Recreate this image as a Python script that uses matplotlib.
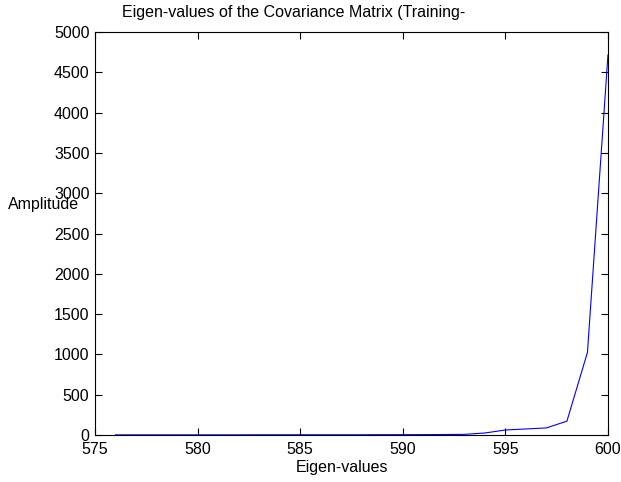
import matplotlib
matplotlib.use('Agg')
from matplotlib import pyplot as plt

# Dados
eig_idx = list(range(576, 601))
eig_val = [2, 2, 2, 2, 2, 2, 2, 3, 3, 3, 3, 3, 3, 4, 4, 5, 6, 8, 25, 62, 75, 88, 172, 1025, 4715]
x_ticks = [575, 580, 585, 590, 595, 600]
y_ticks = list(range(0, 5001, 500))

plt.rcParams['font.family'] = ['Liberation Sans', 'DejaVu Sans']
plt.rcParams['font.size'] = 11.5

fig = plt.figure(figsize=(6.21, 4.82), dpi=100)
ax = fig.add_axes([0.153, 0.0975, 0.826, 0.836])
ax.plot(eig_idx, eig_val, color='b', linewidth=0.8)
ax.set_xlim(575, 600)
ax.set_ylim(0, 5000)
ax.set_xticks(x_ticks)
ax.set_yticks(y_ticks)
ax.tick_params(direction='in', top=True, right=True, length=5)
ax.tick_params(axis='x', pad=5)
ax.tick_params(axis='y', pad=4)
ax.set_xlabel('Eigen-values', va='center')
ax.xaxis.set_label_coords(0.481, -0.081)
ax.set_ylabel('Amplitude', rotation=0, va='center', ha='center')
ax.yaxis.set_label_coords(-0.101, 0.571)
fig.text(0.473, 0.975, 'Eigen-values of the Covariance Matrix (Training-', ha='center', va='center')

fig.savefig('out.png', dpi=100)
